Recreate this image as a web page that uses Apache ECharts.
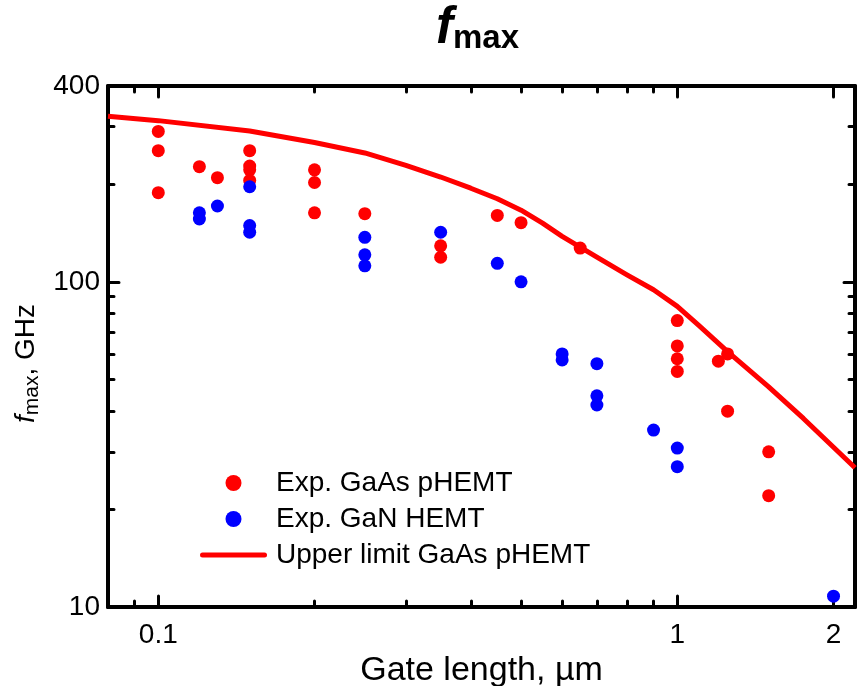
<!DOCTYPE html>
<html>
<head>
<meta charset="utf-8">
<script src="https://cdn.jsdelivr.net/npm/echarts@6/dist/echarts.min.js"></script>
<style>
html,body{margin:0;padding:0;background:#fff;}
#chart{width:857px;height:686px;}
</style>
</head>
<body>
<div id="chart"></div>
<script>
// ---- data ----
const gaasX = [0.1, 0.1, 0.1, 0.12, 0.13, 0.15, 0.15, 0.15, 0.15, 0.2, 0.2, 0.2, 0.25, 0.35, 0.35, 0.45, 0.5, 0.65, 1, 1, 1, 1, 1.2, 1.25, 1.25, 1.5, 1.5];
const gaasY = [290, 253, 188, 226, 209, 253, 227, 221, 205, 221, 202, 163, 162, 129, 119, 160, 152, 127, 76, 63.5, 58, 53, 57, 60, 40, 30, 22];
const ganX = [0.12, 0.12, 0.13, 0.15, 0.15, 0.15, 0.25, 0.25, 0.25, 0.35, 0.45, 0.5, 0.6, 0.6, 0.7, 0.7, 0.7, 0.9, 1, 1, 2];
const ganY = [163, 156, 171, 196, 149, 142, 137, 121, 112, 142, 114, 100, 60, 57.5, 56, 44.6, 41.8, 35, 30.8, 27, 10.8];
const limitX = [0.08, 0.1, 0.15, 0.2, 0.25, 0.3, 0.35, 0.4, 0.45, 0.5, 0.55, 0.6, 0.7, 0.8, 0.9, 1, 1.1, 1.25, 1.5, 1.75, 2, 2.2];
const limitY = [323, 313, 291, 268, 249, 228, 210, 194, 180, 166, 151.5, 138, 119, 105, 94.5, 84, 73.5, 61, 47.5, 38, 31, 26.8];
const seriesNames = ['Exp. GaAs pHEMT', 'Exp. GaN HEMT', 'Upper limit GaAs pHEMT'];
const xLabels = [0.1, 1, 2];
const xMinor = [0.09, 0.2, 0.3, 0.4, 0.5, 0.6, 0.7, 0.8, 0.9];
const yLabels = [10, 100, 400];
const yMinor = [20, 30, 40, 50, 60, 70, 80, 90, 200, 300];
const xRange = [0.08, 2.2];
const yRange = [10, 400];

const zip = (xs, ys) => xs.map((x, i) => [x, ys[i]]);
const FONT = '"Liberation Sans", Arial, Helvetica, sans-serif';
const fmt = v => String(+(+v).toPrecision(3));

function xAx(pos, ticks, len, opts) {
  return Object.assign({
    type: 'log', logBase: 10, min: xRange[0], max: xRange[1], position: pos,
    axisLine: {show: false},
    axisTick: {show: true, inside: true, length: len, customValues: ticks,
      lineStyle: {color: '#000', width: 3, cap: 'round'}},
    axisLabel: {show: false},
    splitLine: {show: false}, minorTick: {show: false}, minorSplitLine: {show: false}
  }, opts || {});
}
function yAx(pos, ticks, len, opts) {
  return Object.assign({
    type: 'log', logBase: 10, min: yRange[0], max: yRange[1], position: pos,
    axisLine: {show: false},
    axisTick: {show: true, inside: true, length: len, customValues: ticks,
      lineStyle: {color: '#000', width: 3, cap: 'round'}},
    axisLabel: {show: false},
    splitLine: {show: false}, minorTick: {show: false}, minorSplitLine: {show: false}
  }, opts || {});
}
const axLine = {show: true, onZero: false, lineStyle: {color: '#000', width: 4}};

const option = {
  backgroundColor: '#fff',
  animation: false,
  textStyle: {fontFamily: FONT},
  title: {
    text: '{f|f}{m|max}',
    left: 431, top: -2,
    textStyle: {
      rich: {
        f: {fontFamily: FONT, fontSize: 51, fontWeight: 'bold', fontStyle: 'italic', color: '#000', verticalAlign: 'top', lineHeight: 52},
        m: {fontFamily: FONT, fontSize: 33, fontWeight: 'bold', color: '#000', verticalAlign: 'bottom', lineHeight: 33, padding: [43, 0, 0, 0]}
      }
    }
  },
  grid: {left: 108, right: 2, top: 86, bottom: 79, containLabel: false, outerBoundsMode: 'none'},
  legend: {
    orient: 'vertical', left: 195, top: 464,
    itemWidth: 67, itemHeight: 16, itemGap: 8,
    data: [
      {name: seriesNames[0]},
      {name: seriesNames[1]},
      {name: seriesNames[2], icon: 'path://M2.5,0 L64.5,0 A2.5,2.5 0 0 1 64.5,5 L2.5,5 A2.5,2.5 0 0 1 2.5,0 Z', itemStyle: {color: '#ff0000'}}
    ],
    textStyle: {fontFamily: FONT, fontSize: 28, color: '#000', lineHeight: 28, padding: [0, 0, 0, 4]}
  },
  xAxis: [
    xAx('bottom', xLabels, 11, {
      axisLine: axLine,
      axisLabel: {show: true, customValues: xLabels, formatter: fmt, fontFamily: FONT, fontSize: 28, color: '#000', margin: 14},
      name: 'Gate length, µm', nameLocation: 'middle', nameGap: 40,
      nameTextStyle: {fontFamily: FONT, fontSize: 34, color: '#000'}
    }),
    xAx('bottom', xMinor, 6),
    xAx('top', xLabels, 11, {axisLine: axLine}),
    xAx('top', xMinor, 6)
  ],
  yAxis: [
    yAx('left', yLabels, 11, {
      axisLine: axLine,
      axisLabel: {show: true, customValues: yLabels, formatter: fmt, fontFamily: FONT, fontSize: 28, color: '#000', margin: 8},
      name: '{f|f}{s|max}{n|, GHz}', nameLocation: 'middle', nameGap: 51, nameRotate: 90,
      nameTextStyle: {
        rich: {
          f: {fontFamily: FONT, fontSize: 28, fontStyle: 'italic', color: '#000', verticalAlign: 'top', lineHeight: 30},
          s: {fontFamily: FONT, fontSize: 21, color: '#000', verticalAlign: 'bottom', lineHeight: 21, padding: [16, 0, 0, 0]},
          n: {fontFamily: FONT, fontSize: 28, color: '#000', verticalAlign: 'top', lineHeight: 30, padding: [0, 34, 0, 0]}
        }
      }
    }),
    yAx('left', yMinor, 6),
    yAx('right', yLabels, 11, {axisLine: axLine}),
    yAx('right', yMinor, 6)
  ],
  series: [
    {name: seriesNames[0], type: 'scatter', xAxisIndex: 0, yAxisIndex: 0, symbol: 'circle', symbolSize: 13,
      itemStyle: {color: '#ff0000', opacity: 1}, data: zip(gaasX, gaasY), z: 3},
    {name: seriesNames[1], type: 'scatter', xAxisIndex: 0, yAxisIndex: 0, symbol: 'circle', symbolSize: 13,
      itemStyle: {color: '#0000ff', opacity: 1}, data: zip(ganX, ganY), z: 4},
    {name: seriesNames[2], type: 'line', xAxisIndex: 0, yAxisIndex: 0, symbol: 'none', showSymbol: false,
      lineStyle: {color: '#ff0000', width: 5, join: 'round'}, itemStyle: {color: '#ff0000'}, data: zip(limitX, limitY), z: 5}
  ]
};
const chart = echarts.init(document.getElementById('chart'), null, {renderer: 'canvas'});
chart.setOption(option);
</script>
</body>
</html>
